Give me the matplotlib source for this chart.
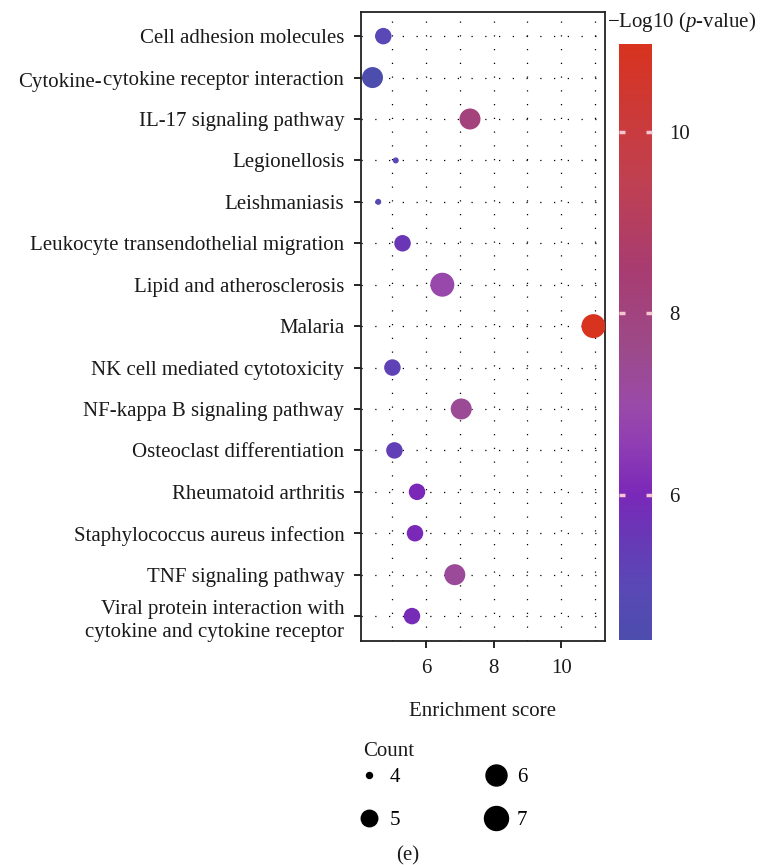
import numpy as np
import matplotlib
matplotlib.use("Agg")
import matplotlib.pyplot as plt
from matplotlib.colors import LinearSegmentedColormap, Normalize
from matplotlib.lines import Line2D

plt.rcParams['font.family'] = ['Liberation Serif', 'DejaVu Serif']
plt.rcParams['mathtext.fontset'] = 'custom'
plt.rcParams['mathtext.rm'] = 'Liberation Serif'
plt.rcParams['mathtext.it'] = 'Liberation Serif:italic'

# data
terms = ["Cell adhesion molecules",
         "cytokine receptor interaction",
         "IL-17 signaling pathway",
         "Legionellosis",
         "Leishmaniasis",
         "Leukocyte transendothelial migration",
         "Lipid and atherosclerosis",
         "Malaria",
         "NK cell mediated cytotoxicity",
         "NF-kappa B signaling pathway",
         "Osteoclast differentiation",
         "Rheumatoid arthritis",
         "Staphylococcus aureus infection",
         "TNF signaling pathway",
         "Viral protein interaction with\ncytokine and cytokine receptor"]
enrichment = [4.73, 4.41, 7.30, 5.10, 4.58, 5.30, 6.48, 10.96, 5.00, 7.04, 5.06, 5.73, 5.67, 6.85, 5.58]
counts = [5, 6, 6, 4, 4, 5, 7, 7, 5, 6, 5, 5, 5, 6, 5]
neglogp = [5.0, 4.40, 8.1, 4.9, 4.8, 5.6, 6.9, 10.97, 5.2, 7.4, 5.3, 6.0, 6.0, 7.3, 5.9]
legend_counts = [4, 5, 6, 7]
cbar_ticks = [6, 8, 10]

# colour scale (value, colour)
cvals = [4.40, 5.0, 5.6, 6.0, 6.5, 7.0, 7.6, 8.5, 9.5, 10.97]
ccols = ["#4d4dad", "#5a48b6", "#6a36b6", "#7a28b8", "#8e3cb4", "#9a4aa8",
         "#9c4a8a", "#a83c70", "#c04050", "#d8331f"]
vmin, vmax = min(neglogp), max(neglogp)
cmap = LinearSegmentedColormap.from_list(
    "pv", [((v - vmin) / (vmax - vmin), c) for v, c in zip(cvals, ccols)])
norm = Normalize(vmin=vmin, vmax=vmax)

def msize(c):
    d = np.interp(c, [4, 5, 6, 7], [6, 16.5, 21, 24])
    return (d * 72 / 100) ** 2

fs = 15
fig = plt.figure(figsize=(7.67, 8.65), dpi=100)
ax = fig.add_axes([0.4707, 0.259, 0.318, 0.727])

ypos = np.arange(len(terms))
ax.scatter(enrichment, ypos, s=msize(np.array(counts)), c=neglogp, cmap=cmap, norm=norm,
           edgecolors='none', zorder=3)

ax.set_xlim(4.07, 11.3)
ax.set_ylim(len(terms) - 0.4, -0.58)
ax.set_yticks(ypos)
ax.set_yticklabels(terms, fontsize=fs, color='#1a1a1a', linespacing=1.3)
ax.set_xticks([6, 8, 10])
ax.set_xticks([5, 7, 9, 11], minor=True)
ax.tick_params(axis='x', which='major', labelsize=fs, length=5, width=1.2, pad=8,
               labelcolor='#1a1a1a')
ax.tick_params(axis='x', which='minor', length=0)
ax.tick_params(axis='y', length=5, width=1.2, pad=7)
ax.grid(True, which='both', axis='x', color='black', linestyle=(0, (1, 10)), linewidth=0.9)
ax.grid(True, which='major', axis='y', color='black', linestyle=(0, (1, 10)), linewidth=0.9)
ax.set_axisbelow(True)
for sp in ax.spines.values():
    sp.set_linewidth(1.3)
    sp.set_color('#222222')
ax.set_xlabel("Enrichment score", fontsize=fs, labelpad=17, color='#1a1a1a')

# quirky split label of the second term
lab = ax.get_yticklabels()[1]
ax.annotate("Cytokine-", xy=(0, 0.5), xycoords=lab, xytext=(-1, -2),
            textcoords='offset points', ha='right', va='center', fontsize=fs,
            color='#1a1a1a')

# colorbar
cax = fig.add_axes([0.8075, 0.2601, 0.043, 0.689])
sm = plt.cm.ScalarMappable(norm=norm, cmap=cmap)
cb = fig.colorbar(sm, cax=cax)
cb.outline.set_visible(False)
cb.set_ticks(cbar_ticks)
cax.tick_params(direction='in', left=True, right=True, color='#f5c6d0', length=4.5, width=2.5,
                labelsize=fs, pad=12, labelcolor='#1a1a1a')
fig.text(0.792, 0.9745, r"$-$Log10 ($p$-value)", fontsize=fs, ha='left', va='center',
         color='#1a1a1a')

# size legend
fig.text(363 / 767, 1 - 752 / 865, "Count", fontsize=fs, ha='left', va='center',
         color='#1a1a1a')
handles = [Line2D([], [], linestyle='none', marker='o', color='black',
                  markersize=np.sqrt(msize(c))) for c in legend_counts]
leg = fig.legend(handles, [str(c) for c in legend_counts], ncol=2,
                 loc='upper left', bbox_to_anchor=(0.4427, 0.134), frameon=False,
                 fontsize=fs, handlelength=1.0, handletextpad=0.5,
                 columnspacing=4.1, labelspacing=1.1)

fig.text(0.531, 1 - 856 / 865, "(e)", fontsize=fs, ha='center', va='center', color='#1a1a1a')

fig.savefig("out.png", dpi=100)
